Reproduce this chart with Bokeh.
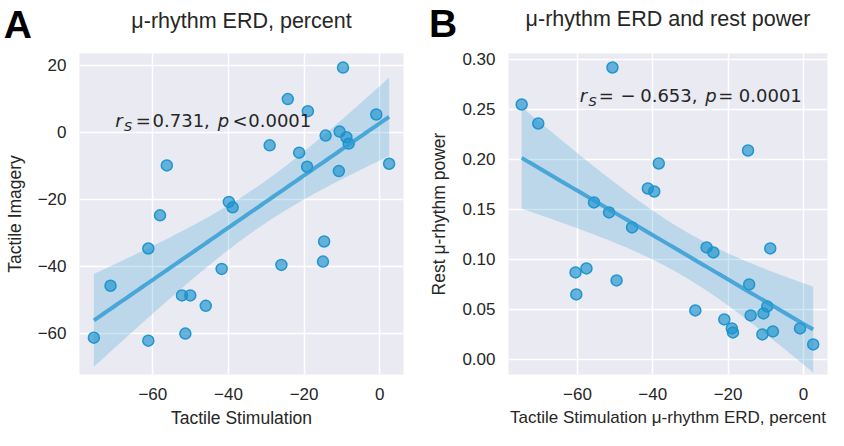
import numpy as np
from bokeh.plotting import figure
from bokeh.layouts import row, column
from bokeh.models import Label, CustomJSTickFormatter, FixedTicker, Range1d
from bokeh.embed import file_html
from bokeh.resources import INLINE

# ---------------- data ----------------
# Panel A: Tactile Stimulation ERD (%) vs Tactile Imagery ERD (%)
stim_a = [-9.7, -24.3, -19.0, -0.9, -10.6, -14.3, -8.8, -8.2, -29.1, -21.3,
          -56.3, 2.5, -19.2, -10.8, -39.9, -38.9, -58.1, -61.2, -14.7, -15.0,
          -26.0, -41.8, -71.2, -52.3, -50.1, -46.0, -51.4, -75.6, -61.2]
imag_a = [19.3, 9.9, 6.3, 5.3, 0.2, -1.0, -1.5, -3.4, -3.9, -6.1,
          -9.9, -9.4, -10.3, -11.6, -20.8, -22.4, -24.8, -34.7, -32.6, -38.6,
          -39.6, -40.8, -45.8, -48.7, -48.7, -51.8, -60.1, -61.3, -62.2]

# Panel B: Tactile Stimulation ERD (%) vs rest mu-rhythm power
stim_b = [-50.7, -74.8, -70.4, -14.7, -38.4, -41.3, -39.6, -55.6, -51.6, -45.5,
          -25.7, -23.9, -8.8, -60.5, -57.6, -49.6, -60.3, -14.4, -9.6, -10.6,
          -14.0, -28.7, -21.0, -19.0, -18.7, -10.9, -8.1, -0.9, 2.6]
rest_b = [0.292, 0.255, 0.236, 0.209, 0.196, 0.171, 0.168, 0.157, 0.147, 0.132,
          0.112, 0.107, 0.111, 0.087, 0.091, 0.079, 0.065, 0.075, 0.053, 0.046,
          0.044, 0.049, 0.040, 0.031, 0.027, 0.025, 0.028, 0.031, 0.015]

title_a = "μ-rhythm ERD, percent"
title_b = "μ-rhythm ERD and rest power"
xlabel_a = "Tactile Stimulation"
ylabel_a = "Tactile Imagery"
xlabel_b = "Tactile Stimulation μ-rhythm ERD, percent"
ylabel_b = "Rest μ-rhythm power"
xticks = [-60, -40, -20, 0]
yticks_a = [-60, -40, -20, 0, 20]
yticks_b = [0.0, 0.05, 0.10, 0.15, 0.20, 0.25, 0.30]

# ---------------- style ----------------
BG = "#EAEAF2"
TXT = "#262626"
COL = "#1a92cc"
SANS = "Liberation Sans"
MATH = "DejaVu Sans"
BL = 0.31  # baseline compensation (fraction of font size)

W_A, W_B = 418, 410
HEAD_H = 46
PLOT_H = 430 - HEAD_H


def regfit(x, y):
    x = np.asarray(x, float)
    y = np.asarray(y, float)
    n = len(x)
    b, a = np.polyfit(x, y, 1)
    xg = np.linspace(x.min(), x.max(), 100)
    yg = a + b * xg
    resid = y - (a + b * x)
    s = np.sqrt(np.sum(resid ** 2) / (n - 2))
    sxx = np.sum((x - x.mean()) ** 2)
    se = s * np.sqrt(1.0 / n + (xg - x.mean()) ** 2 / sxx)
    t = 2.052
    return xg, yg, yg - t * se, yg + t * se


def make_panel(x, y, xr, yr, yticks, yfmt, xlabel, ylabel, width, left, right, xlab_size):
    p = figure(width=width, height=PLOT_H, output_backend="svg", toolbar_location=None,
               x_range=Range1d(*xr), y_range=Range1d(*yr),
               min_border_left=left, min_border_right=right,
               min_border_top=7, min_border_bottom=56)
    p.title.visible = False
    p.background_fill_color = BG
    p.border_fill_color = "white"
    p.outline_line_color = None

    p.xaxis.ticker = FixedTicker(ticks=xticks)
    p.yaxis.ticker = FixedTicker(ticks=yticks)
    p.xgrid.ticker = FixedTicker(ticks=xticks)
    p.ygrid.ticker = FixedTicker(ticks=yticks)
    p.grid.grid_line_color = "white"
    p.grid.grid_line_width = 1.5

    p.xaxis.formatter = CustomJSTickFormatter(code="return tick.toFixed(0).replace('-', '\u2212');")
    p.yaxis.formatter = CustomJSTickFormatter(code="return tick.toFixed(%d).replace('-', '\u2212');" % yfmt)

    p.axis.axis_line_color = None
    p.axis.major_tick_line_color = None
    p.axis.minor_tick_line_color = None
    p.axis.major_tick_out = 0
    p.axis.major_tick_in = 0
    p.axis.major_label_text_font = SANS
    p.axis.major_label_text_font_size = "17px"
    p.axis.major_label_text_color = TXT
    p.axis.axis_label_text_font = SANS
    p.axis.axis_label_text_font_size = "17.5px"
    p.axis.axis_label_text_font_style = "normal"
    p.axis.axis_label_text_color = TXT
    p.xaxis.axis_label_text_font_size = xlab_size
    p.xaxis.major_label_standoff = 13
    p.xaxis.axis_label_standoff = 5
    p.yaxis.major_label_standoff = 13
    p.yaxis.axis_label_standoff = 10
    p.xaxis.axis_label = xlabel
    p.yaxis.axis_label = ylabel

    xg, yg, lo, hi = regfit(x, y)
    p.varea(x=xg, y1=lo, y2=hi, fill_color=COL, fill_alpha=0.22)
    p.scatter(x=x, y=y, size=11, fill_color=COL, fill_alpha=0.65,
              line_color=COL, line_alpha=0.95, line_width=1.5)
    p.line(x=xg, y=yg, line_color="#2a9bd3", line_alpha=0.8, line_width=4)
    return p


def lab(p, text, x, y, units="screen", dx=0, dy=0, size=18, font=MATH,
        style="normal", align="left", color=TXT):
    p.add_layout(Label(x=x, y=y, x_units=units, y_units=units, x_offset=dx,
                       y_offset=dy + BL * size,
                       text=text, text_font=font, text_font_size="%gpx" % size,
                       text_font_style=style, text_color=color, text_align=align,
                       text_baseline="alphabetic"))


pa = make_panel(stim_a, imag_a, (-79.4, 6.3), (-72.3, 23.5), yticks_a, 0,
                xlabel_a, ylabel_a, W_A, 79, 15, "17.5px")
pb = make_panel(stim_b, rest_b, (-78.3, 6.4), (-0.0151, 0.306), yticks_b, 2,
                xlabel_b, ylabel_b, W_B, 90, 1, "17px")

# header strip with panel letters and titles
head = figure(width=W_A + W_B, height=HEAD_H, output_backend="svg", toolbar_location=None,
              x_range=Range1d(0, W_A + W_B), y_range=Range1d(0, HEAD_H),
              x_axis_type=None, y_axis_type=None, min_border=0)
head.title.visible = False
head.outline_line_color = None
head.background_fill_color = "white"
head.border_fill_color = "white"
head.grid.visible = False

# y given as distance of the baseline above the strip's bottom edge
lab(head, "A", 3.3, HEAD_H - 35.7, size=39, font=SANS, style="bold", color="black")
lab(head, "B", 428.5, HEAD_H - 35.0, size=39, font=SANS, style="bold", color="black")
lab(head, title_a, 241, HEAD_H - 26.7, size=21.5, font=SANS, align="center")
lab(head, title_b, 667.5, HEAD_H - 25.2, size=21.5, font=SANS, align="center")

# correlation annotations (anchored in data space, pieces offset in px)
ax, ay = -69.7, 1.9
lab(pa, "r", ax, ay, "data", dx=-1, style="italic")
lab(pa, "S", ax, ay, "data", dx=7.8, dy=-3 - BL * 5, size=13, style="italic")
lab(pa, "=", ax, ay, "data", dx=19.6)
lab(pa, "0.731,", ax, ay, "data", dx=36.4)
lab(pa, "p", ax, ay, "data", dx=101.6, style="italic")
lab(pa, "<", ax, ay, "data", dx=116.3)
lab(pa, "0.0001", ax, ay, "data", dx=132.1)

bx, by = -59.1, 0.2584
lab(pb, "r", bx, by, "data", dx=-1, style="italic")
lab(pb, "S", bx, by, "data", dx=7.8, dy=-3 - BL * 5, size=13, style="italic")
lab(pb, "=", bx, by, "data", dx=18.0)
lab(pb, "\u2212", bx, by, "data", dx=39.6)
lab(pb, "0.653,", bx, by, "data", dx=59.4)
lab(pb, "p", bx, by, "data", dx=124.5, style="italic")
lab(pb, "=", bx, by, "data", dx=137.5)
lab(pb, "0.0001", bx, by, "data", dx=158.0)

layout = column(head, row(pa, pb, spacing=0), spacing=0)
open("out.html", "w").write(file_html(layout, INLINE))
